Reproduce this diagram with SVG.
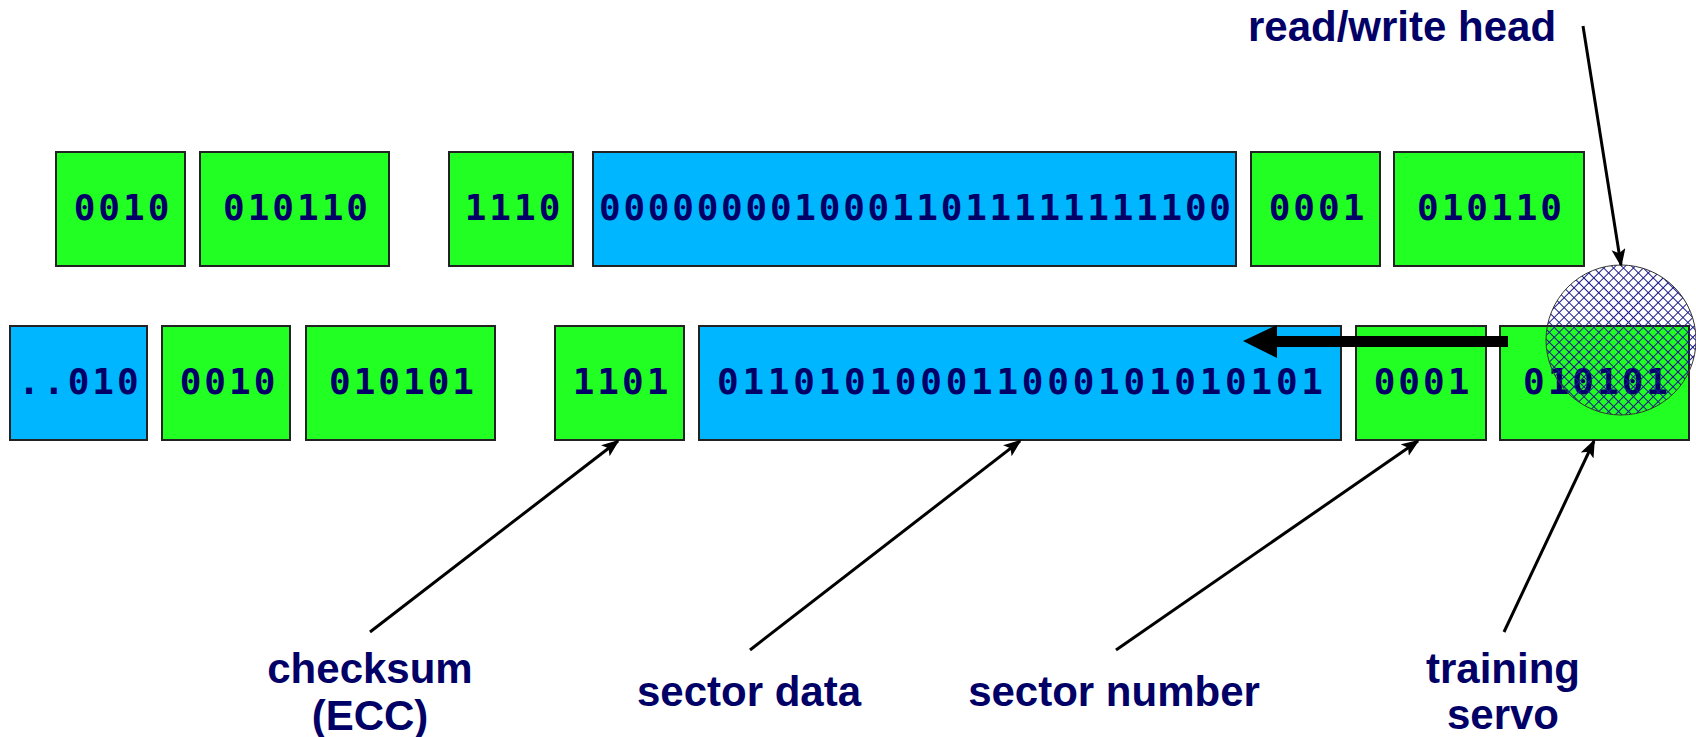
<svg xmlns="http://www.w3.org/2000/svg" width="1696" height="737" viewBox="0 0 1696 737">
<style>
.g{fill:#22ff22;stroke:#222;stroke-width:2}
.b{fill:#00b7ff;stroke:#222;stroke-width:2}
.bits{font-family:"DejaVu Sans Mono",monospace;font-weight:bold;font-size:36px;fill:#000066;text-anchor:middle;letter-spacing:3px}
.lbl{font-family:"Liberation Sans",Arial,sans-serif;font-weight:bold;font-size:42px;fill:#000066;text-anchor:middle}
.con{stroke:#000;stroke-width:3;fill:none;marker-end:url(#ah)}
</style>
<defs>
<marker id="ah" markerUnits="userSpaceOnUse" markerWidth="20" markerHeight="16" refX="16" refY="7" orient="auto">
<path d="M0,0 L18,7 L0,14 L4,7 Z" fill="#000"/>
</marker>
<pattern id="hatch" width="7" height="7" patternUnits="userSpaceOnUse" patternTransform="rotate(45)">
<path d="M0,0.5 H7 M0.5,0 V7" stroke="#1a1a8c" stroke-width="1" fill="none"/>
</pattern>
</defs>
<rect width="1696" height="737" fill="#fff"/>
<g id="top-row">
<g id="t1"><rect class="g" x="56" y="152" width="129" height="114"/><text class="bits" x="123" y="220">0010</text></g>
<g id="t2"><rect class="g" x="200" y="152" width="189" height="114"/><text class="bits" x="297" y="220">010110</text></g>
<g id="t3"><rect class="g" x="449" y="152" width="124" height="114"/><text class="bits" x="514" y="220">1110</text></g>
<g id="t4"><rect class="b" x="593" y="152" width="643" height="114"/><text class="bits" x="915" y="220" style="letter-spacing:0" textLength="632" lengthAdjust="spacing">00000000100011011111111100</text></g>
<g id="t5"><rect class="g" x="1251" y="152" width="129" height="114"/><text class="bits" x="1318" y="220">0001</text></g>
<g id="t6"><rect class="g" x="1394" y="152" width="190" height="114"/><text class="bits" x="1491" y="220">010110</text></g>
</g>
<g id="bottom-row">
<g id="b1"><rect class="b" x="10" y="326" width="137" height="114"/><text class="bits" x="80" y="394">..010</text></g>
<g id="b2"><rect class="g" x="162" y="326" width="128" height="114"/><text class="bits" x="229" y="394">0010</text></g>
<g id="b3"><rect class="g" x="306" y="326" width="189" height="114"/><text class="bits" x="403" y="394">010101</text></g>
<g id="b4"><rect class="g" x="555" y="326" width="129" height="114"/><text class="bits" x="622" y="394">1101</text></g>
<g id="b5"><rect class="b" x="699" y="326" width="642" height="114"/><text class="bits" x="1020" y="394" style="letter-spacing:0" textLength="606" lengthAdjust="spacing">011010100011000101010101</text></g>
<g id="b6"><rect class="g" x="1356" y="326" width="130" height="114"/><text class="bits" x="1423" y="394">0001</text></g>
<g id="b7"><rect class="g" x="1500" y="326" width="189" height="114"/><text class="bits" x="1597" y="394">010101</text></g>
</g>
<g id="head">
<circle cx="1621" cy="340" r="75" fill="url(#hatch)" stroke="#333" stroke-width="1"/>
</g>
<g id="motion-arrow">
<polygon points="1508,336 1277,336 1277,325 1243,341 1277,358 1277,347 1508,347" fill="#000"/>
</g>
<g id="connectors">
<line class="con" x1="1583" y1="26" x2="1621" y2="265"/>
<line class="con" x1="370" y1="632" x2="618" y2="441"/>
<line class="con" x1="750" y1="650" x2="1020" y2="441"/>
<line class="con" x1="1116" y1="650" x2="1418" y2="441"/>
<line class="con" x1="1504" y1="632" x2="1594" y2="441"/>
</g>
<g id="labels">
<text class="lbl" x="1402" y="41">read/write head</text>
<text class="lbl" x="370" y="683">checksum</text>
<text class="lbl" x="370" y="730">(ECC)</text>
<text class="lbl" x="749" y="706">sector data</text>
<text class="lbl" x="1114" y="706">sector number</text>
<text class="lbl" x="1503" y="683">training</text>
<text class="lbl" x="1503" y="729">servo</text>
</g>
</svg>
